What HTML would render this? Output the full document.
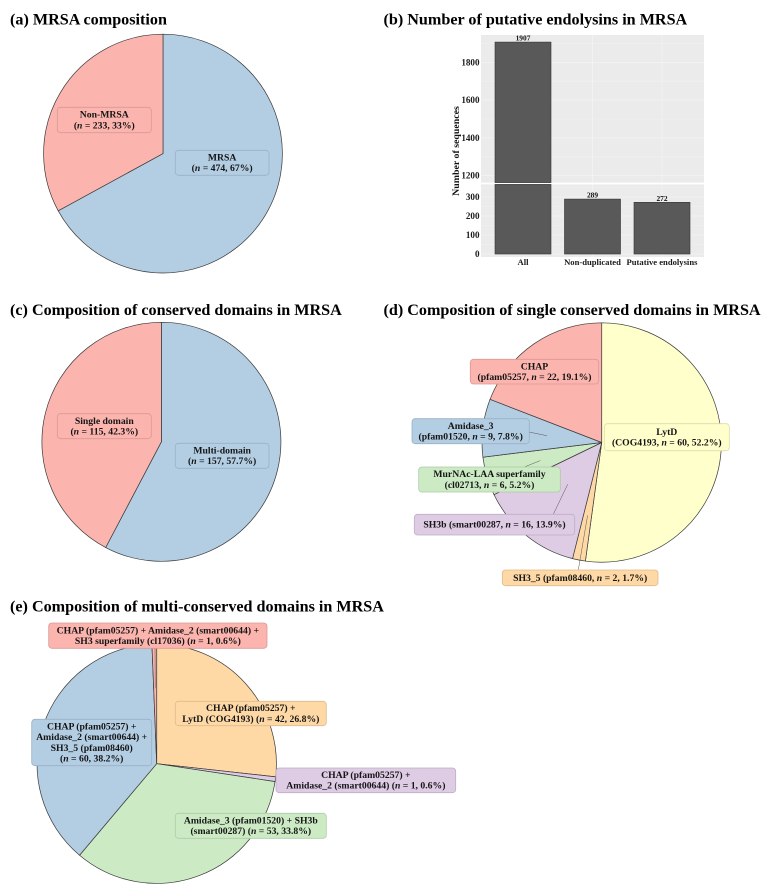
<!DOCTYPE html>
<html lang="en">
<head>
<meta charset="utf-8">
<title>MRSA endolysin composition</title>
<style>
html,body{margin:0;padding:0;background:#fff;width:766px;height:891px;overflow:hidden}
svg{display:block;filter:blur(0.35px)}
text{font-family:"Liberation Serif",serif;font-weight:bold;fill:#111}
.title{font-size:16.15px;fill:#000}
.lab{font-size:9.7px;text-anchor:middle;fill:#151515}
.tick{font-size:9.1px;fill:#1a1a1a}
</style>
</head>
<body>
<svg id="fig" xmlns="http://www.w3.org/2000/svg" width="766" height="891" viewBox="0 0 766 891">
  <rect width="766" height="891" fill="#fff"/>
  <text class="title" x="10" y="24.7">(a) MRSA composition</text>
  <text class="title" x="383.5" y="24.7">(b) Number of putative endolysins in MRSA</text>
  <text class="title" x="10" y="315">(c) Composition of conserved domains in MRSA</text>
  <text class="title" x="383.5" y="315">(d) Composition of single conserved domains in MRSA</text>
  <text class="title" x="10" y="611.5">(e) Composition of multi-conserved domains in MRSA</text>
</svg>
<script>
// ---- chart data ----
const aValues = [474, 233];
const aPercents = ['67%', '33%'];
const cValues = [157, 115];
const cPercents = ['57.7%', '42.3%'];
const dValues = [60, 2, 16, 6, 9, 22];
const dPercents = ['52.2%', '1.7%', '13.9%', '5.2%', '7.8%', '19.1%'];
const eValues = [42, 1, 53, 60, 1];
const ePercents = ['26.8%', '0.6%', '33.8%', '38.2%', '0.6%'];
const barCategories = ['All', 'Non-duplicated', 'Putative endolysins'];
const barValues = [1907, 289, 272];
const upperTicks = [1200, 1400, 1600, 1800];
const lowerTicks = [0, 100, 200, 300];

// ---- helpers ----
const NS = 'http://www.w3.org/2000/svg';
const fig = document.getElementById('fig');
const PAL = {red:'#FBB4AE', blue:'#B3CDE3', green:'#CCEBC5', purple:'#DECBE4', orange:'#FED9A6', yellow:'#FFFFCC'};
const EDGE = {red:'#d99a95', blue:'#9ab1c5', green:'#afcaa9', purple:'#bfaec5', orange:'#dcbb8e', yellow:'#dcdcae'};

function make(tag, attrs, parent) {
  const el = document.createElementNS(NS, tag);
  for (const k in attrs) el.setAttribute(k, attrs[k]);
  (parent || fig).appendChild(el);
  return el;
}
function polar(p, angle, r) {
  return [p.cx + r * Math.sin(angle), p.cy - r * Math.cos(angle)];
}
function drawPie(id, p, values, colors) {
  const g = make('g', {});
  
  
  const total = values.reduce((a, b) => a + b, 0);
  let acc = 0;
  values.forEach((v, i) => {
    const a0 = acc / total * 2 * Math.PI;
    acc += v;
    const a1 = acc / total * 2 * Math.PI;
    const s = polar(p, a0, p.r), e = polar(p, a1, p.r);
    const large = (a1 - a0) > Math.PI ? 1 : 0;
    const d = `M${p.cx} ${p.cy}L${s[0]} ${s[1]}A${p.r} ${p.r} 0 ${large} 1 ${e[0]} ${e[1]}Z`;
    const w = make('path', {d: d, fill: PAL[colors[i]], stroke: '#3a3a3a', 'stroke-width': 0.7}, g);
    
    
  });
}
function leader(id, p, values, idx, x0, y0, frac) {
  const total = values.reduce((a, b) => a + b, 0);
  let before = 0;
  for (let i = 0; i < idx; i++) before += values[i];
  const mid = (before + values[idx] / 2) / total * 2 * Math.PI;
  const e = polar(p, mid, p.r * frac);
  const l = make('line', {x1: x0, y1: y0, x2: e[0], y2: e[1], stroke: '#555', 'stroke-width': 0.5});
  
  
}
function stat(v, pct) { return '(@ = ' + v + ', ' + pct + ')'; }
function label(id, color, x0, y0, x1, y1, lines) {
  const g = make('g', {});
  
  
  make('rect', {x: x0, y: y0, width: x1 - x0, height: y1 - y0, rx: 3.2, ry: 3.2,
    fill: PAL[color], stroke: EDGE[color], 'stroke-width': 0.8}, g);
  const lh = 10.65;
  const mid = (x0 + x1) / 2;
  const start = (y0 + y1) / 2 - (lines.length - 1) * lh / 2 + 3;
  lines.forEach((ln, i) => {
    const t = make('text', {class: 'lab', x: mid, y: start + i * lh}, g);
    const parts = ln.split('@');
    parts.forEach((part, j) => {
      if (j > 0) {
        const it = make('tspan', {'font-style': 'italic'}, t);
        it.textContent = 'n';
      }
      t.appendChild(document.createTextNode(part));
    });
  });
}

// ---- panel (a) ----
const pieA = {cx: 163, cy: 153.6, r: 119.4};
drawPie('a', pieA, aValues, ['blue', 'red']);
label('non-mrsa', 'red', 57.3, 107.3, 151.3, 132.7, ['Non-MRSA', stat(aValues[1], aPercents[1])]);
label('mrsa', 'blue', 175.3, 150.3, 269, 175.3, ['MRSA', stat(aValues[0], aPercents[0])]);

// ---- panel (c) ----
const pieC = {cx: 161.4, cy: 441.8, r: 119.5};
drawPie('c', pieC, cValues, ['blue', 'red']);
label('single-domain', 'red', 57.3, 413.7, 151.3, 438.7, ['Single domain', stat(cValues[1], cPercents[1])]);
label('multi-domain', 'blue', 175.3, 443.3, 269, 468.3, ['Multi-domain', stat(cValues[0], cPercents[0])]);

// ---- panel (d) ----
const pieD = {cx: 601.7, cy: 442.5, r: 119.7};
drawPie('d', pieD, dValues, ['yellow', 'orange', 'purple', 'green', 'blue', 'red']);
leader('amidase-3', pieD, dValues, 4, 529, 432, 0.46);
leader('murnac', pieD, dValues, 3, 525, 466.7, 0.535);
leader('sh3b', pieD, dValues, 2, 553.3, 514.3, 0.45);
leader('sh3-5', pieD, dValues, 1, 578.3, 570, 0.62);
label('chap', 'red', 470.3, 359.3, 598.7, 384, ['CHAP', '(pfam05257, @ = ' + dValues[5] + ', ' + dPercents[5] + ')']);
label('lytd', 'yellow', 604.3, 423.7, 729.3, 450.7, ['LytD', '(COG4193, @ = ' + dValues[0] + ', ' + dPercents[0] + ')']);
label('amidase-3', 'blue', 412, 418.7, 529.3, 443.7, ['Amidase_3', '(pfam01520, @ = ' + dValues[4] + ', ' + dPercents[4] + ')']);
label('murnac', 'green', 418.7, 467, 560.3, 492, ['MurNAc-LAA superfamily', '(cl02713, @ = ' + dValues[3] + ', ' + dPercents[3] + ')']);
label('sh3b', 'purple', 414.3, 514.3, 574.7, 535, ['SH3b (smart00287, @ = ' + dValues[2] + ', ' + dPercents[2] + ')']);
label('sh3-5', 'orange', 502.3, 570, 658, 585.7, ['SH3_5 (pfam08460, @ = ' + dValues[1] + ', ' + dPercents[1] + ')']);

// ---- panel (e) ----
const pieE = {cx: 156.7, cy: 763.7, r: 119.7};
drawPie('e', pieE, eValues, ['orange', 'purple', 'green', 'blue', 'red']);
leader('chap-sh3', pieE, eValues, 4, 155, 648, 0.63);
label('chap-amidase-sh3', 'red', 48.7, 623, 267, 648.3, ['CHAP (pfam05257) + Amidase_2 (smart00644) +', 'SH3 superfamily (cl17036) ' + stat(eValues[4], ePercents[4])]);
label('chap-lytd', 'orange', 175.3, 701.3, 326.3, 725.7, ['CHAP (pfam05257) +', 'LytD (COG4193) ' + stat(eValues[0], ePercents[0])]);
label('chap-amidase-sh3-5', 'blue', 31.7, 719.3, 151.7, 765.7, ['CHAP (pfam05257) +', 'Amidase_2 (smart00644) +', 'SH3_5 (pfam08460)', stat(eValues[3], ePercents[3])]);
label('chap-amidase', 'purple', 276, 768, 455.7, 792.7, ['CHAP (pfam05257) +', 'Amidase_2 (smart00644) ' + stat(eValues[1], ePercents[1])]);
label('amidase-sh3b', 'green', 175.3, 813.3, 326.3, 838.3, ['Amidase_3 (pfam01520) + SH3b', '(smart00287) ' + stat(eValues[2], ePercents[2])]);

// ---- panel (b) broken-axis bar chart ----
const panelX0 = 481, panelX1 = 704;
const upTop = 35, upBottom = 182.6, lowTop = 184.4, lowBottom = 257;
const yUpper = v => 62.3 + (1800 - v) * 0.189;
const yLower = v => 254 - v * 0.19;
const xBand = i => 523 + i * 69.5;
const barW = 56;

const chart = make('g', {});



const up = make('rect', {x: panelX0, y: upTop, width: panelX1 - panelX0, height: upBottom - upTop, fill: '#ebebeb'}, chart);


const low = make('rect', {x: panelX0, y: lowTop, width: panelX1 - panelX0, height: lowBottom - lowTop, fill: '#ebebeb'}, chart);



function hgrid(y, w) {
  const l = make('line', {x1: panelX0, x2: panelX1, y1: y, y2: y, stroke: '#f6f6f6', 'stroke-width': w}, chart);
  
  
}
function tickLabel(y, v) {
  const t = make('text', {class: 'tick', x: 479.5, y: y + 3, 'text-anchor': 'end'}, chart);
  
  
  t.textContent = v;
}
upperTicks.forEach(v => {
  hgrid(yUpper(v), 0.6);
  if (yUpper(v + 100) > upTop) hgrid(yUpper(v + 100), 0.3);
  tickLabel(yUpper(v), v);
});
lowerTicks.forEach(v => {
  hgrid(yLower(v), 0.6);
  if (yLower(v + 50) > lowTop) hgrid(yLower(v + 50), 0.3);
  tickLabel(yLower(v), v);
});
barCategories.forEach((c, i) => {
  [[upTop, upBottom], [lowTop, lowBottom]].forEach(seg => {
    const l = make('line', {x1: xBand(i), x2: xBand(i), y1: seg[0], y2: seg[1], stroke: '#f6f6f6', 'stroke-width': 0.6}, chart);
    
    
  });
});
barValues.forEach((v, i) => {
  const x = xBand(i) - barW / 2;
  const y0 = yLower(0);
  const lowY = Math.max(yLower(v), lowTop);
  const b = make('rect', {x: x, y: lowY, width: barW, height: y0 - lowY, fill: '#595959', stroke: '#333', 'stroke-width': 0.6}, chart);
  
  
  if (yLower(v) < lowTop) {
    const topY = yUpper(v);
    const b2 = make('rect', {x: x, y: topY, width: barW, height: upBottom - topY, fill: '#595959', stroke: '#333', 'stroke-width': 0.6}, chart);
    
    
  }
  const labelY = yLower(v) < lowTop ? yUpper(v) - 1.6 : yLower(v) - 1.4;
  const t = make('text', {x: xBand(i), y: labelY, 'text-anchor': 'middle', 'font-size': 7.4}, chart);
  
  
  t.textContent = v;
  const c = make('text', {class: 'tick', x: xBand(i), y: 265, 'text-anchor': 'middle'}, chart);
  
  
  c.style.fontSize = '8.6px';
  c.textContent = barCategories[i];
});
const yTitle = make('text', {x: 0, y: 0, 'text-anchor': 'middle', 'font-size': 9.9,
  transform: 'translate(459 151) rotate(-90)'}, chart);


yTitle.textContent = 'Number of sequences';
</script>
</body>
</html>
